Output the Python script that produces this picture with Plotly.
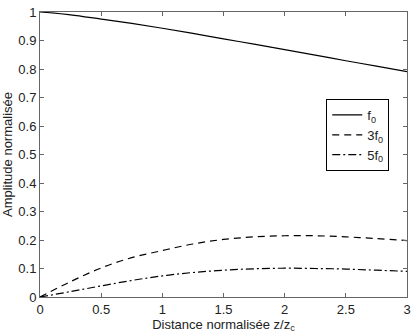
import plotly.graph_objects as go

z = [0, 0.25, 0.5, 0.75, 1.0, 1.25, 1.5, 1.75, 2.0, 2.25, 2.5, 2.75, 3.0]
f0 = [1.0, 0.990, 0.975, 0.960, 0.943, 0.925, 0.906, 0.887, 0.868, 0.849, 0.829, 0.810, 0.791]
f3 = [0.0, 0.054, 0.102, 0.138, 0.163, 0.186, 0.202, 0.211, 0.215, 0.215, 0.211, 0.205, 0.198]
f5 = [0.0, 0.019, 0.039, 0.058, 0.074, 0.086, 0.094, 0.099, 0.101, 0.100, 0.098, 0.094, 0.090]

xticks = [0, 0.5, 1, 1.5, 2, 2.5, 3]
yticks = [0, 0.1, 0.2, 0.3, 0.4, 0.5, 0.6, 0.7, 0.8, 0.9, 1]

names = ["f<sub>0</sub>", "3f<sub>0</sub>", "5f<sub>0</sub>"]
dashes = ["solid", "7px,5px", "8px,3px,2px,3px"]

fig = go.Figure()
for y, n, d in zip([f0, f3, f5], names, dashes):
    fig.add_trace(go.Scatter(x=z, y=y, mode="lines", name=n, line_shape="spline",
                             line=dict(color="black", width=1.2, dash=d)))

font = dict(family="Liberation Sans, Arial, sans-serif", size=13, color="#222")
axis_common = dict(showgrid=False, zeroline=False, showline=True, linecolor="#666",
                   linewidth=1, mirror="ticks", ticks="inside", ticklen=4,
                   tickcolor="#666", tickfont=font, ticklabeloverflow="allow")

fig.update_layout(
    width=416, height=335,
    margin=dict(l=40, r=5, t=7, b=38),
    paper_bgcolor="white", plot_bgcolor="white",
    font=font,
    showlegend=True,
    legend=dict(x=0.78, y=0.695, xanchor="left", yanchor="top",
                bordercolor="black", borderwidth=1, bgcolor="white",
                font=dict(family="Liberation Sans, Arial, sans-serif", size=13, color="#222"),
                tracegroupgap=0, itemwidth=30),
    xaxis=dict(range=[0, 3], tickvals=xticks, ticktext=[f"{v:g}" for v in xticks],
               title=dict(text="Distance normalisée z/z<sub>c</sub>", font=font, standoff=1),
               **axis_common),
    yaxis=dict(range=[0, 1], tickvals=yticks, ticktext=[f"{v:g}" for v in yticks],
               title=dict(text="Amplitude normalisée", font=font, standoff=3),
               **axis_common),
)

fig.write_html("out.html")
